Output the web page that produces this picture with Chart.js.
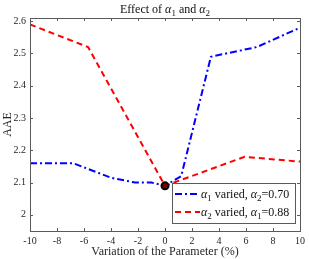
<!DOCTYPE html>
<html>
<head>
<meta charset="utf-8">
<script src="https://cdn.jsdelivr.net/npm/chart.js@4"></script>
<style>
  html, body { margin: 0; padding: 0; background: #fff; }
  #wrap { width: 309px; height: 259px; }
</style>
</head>
<body>
<div id="wrap"><canvas id="graph"></canvas></div>
<script>
// values
const alpha1X = [-10, -6.8, -4, -2.2, -1, 0, 1.2, 3.4, 6.8, 10]
const alpha1Y = [2.16, 2.16, 2.115, 2.10, 2.10, 2.09, 2.12, 2.49, 2.52, 2.58]
const alpha2X = [-10, -5.7, 0, 5.9, 10]
const alpha2Y = [2.59, 2.52, 2.09, 2.18, 2.165]
const bestPoint = [{ x: 0, y: 2.09 }]
const xTicks = [-10, -8, -6, -4, -2, 0, 2, 4, 6, 8, 10]
const yTicks = [2, 2.1, 2.2, 2.3, 2.4, 2.5, 2.6]

const serif = '"Liberation Serif", "Times New Roman", serif'
const inkColor = '#262626'
const boxColor = '#5a5a5a'

// pieces of text with greek + subscript
const titleParts = [
    { t: 'Effect of ' }, { t: 'α', it: true }, { t: '1', sub: true },
    { t: ' and ' }, { t: 'α', it: true }, { t: '2', sub: true }
]
const legendParts = [
    [{ t: 'α', it: true }, { t: '1', sub: true }, { t: ' varied, ' }, { t: 'α', it: true }, { t: '2', sub: true }, { t: '=0.70' }],
    [{ t: 'α', it: true }, { t: '2', sub: true }, { t: ' varied, ' }, { t: 'α', it: true }, { t: '1', sub: true }, { t: '=0.88' }]
]

const toPoints = (xs, ys) => xs.map((x, i) => ({ x: x, y: ys[i] }))

function partFont(p, size) {
    const s = p.sub ? Math.round(size * 0.72) : size
    return (p.it ? 'italic ' : '') + s + 'px ' + serif
}
function richWidth(ctx, parts, size) {
    let w = 0
    parts.forEach(p => { ctx.font = partFont(p, size); w += ctx.measureText(p.t).width })
    return w
}
function drawRich(ctx, parts, x, y, size) {
    ctx.textAlign = 'left'
    ctx.textBaseline = 'alphabetic'
    parts.forEach(p => {
        ctx.font = partFont(p, size)
        ctx.fillText(p.t, x, p.sub ? y + size * 0.25 : y)
        x += ctx.measureText(p.t).width
    })
}

// box, inner ticks, title and legend, MATLAB style
const matlabLook = {
    id: 'matlabLook',
    afterDatasetsDraw(chart) {
        const ctx = chart.ctx
        const a = chart.chartArea
        const xs = chart.scales.x
        const ys = chart.scales.y
        ctx.save()
        ctx.strokeStyle = boxColor
        ctx.lineWidth = 1
        ctx.setLineDash([])
        ctx.beginPath()
        xTicks.forEach(v => {
            const px = Math.round(xs.getPixelForValue(v)) + 0.5
            ctx.moveTo(px, a.bottom); ctx.lineTo(px, a.bottom - 3)
            ctx.moveTo(px, a.top); ctx.lineTo(px, a.top + 3)
        })
        yTicks.forEach(v => {
            const py = Math.round(ys.getPixelForValue(v)) + 0.5
            ctx.moveTo(a.left, py); ctx.lineTo(a.left + 3, py)
            ctx.moveTo(a.right, py); ctx.lineTo(a.right - 3, py)
        })
        ctx.stroke()
        ctx.strokeRect(Math.round(a.left) + 0.5, Math.round(a.top) + 0.5,
            Math.round(a.right - a.left), Math.round(a.bottom - a.top))

        // title
        ctx.fillStyle = '#111'
        const tw = richWidth(ctx, titleParts, 12)
        drawRich(ctx, titleParts, (a.left + a.right) / 2 - tw / 2, 13, 12)

        // legend box
        const lx = 172, ly = 183, lw = 123, lh = 40
        ctx.fillStyle = '#fff'
        ctx.fillRect(lx, ly, lw, lh)
        ctx.strokeStyle = boxColor
        ctx.strokeRect(lx + 0.5, ly + 0.5, lw, lh)
        const rows = [ly + 11, ly + 29]
        ;[1, 2].forEach((di, i) => {
            const ds = chart.data.datasets[di]
            ctx.strokeStyle = ds.borderColor
            ctx.lineWidth = ds.borderWidth
            ctx.setLineDash(ds.borderDash)
            ctx.beginPath()
            ctx.moveTo(lx + 3, rows[i]); ctx.lineTo(lx + 28, rows[i])
            ctx.stroke()
            ctx.fillStyle = '#111'
            drawRich(ctx, legendParts[i], lx + 29, rows[i] + 4, 12)
        })
        ctx.restore()
    }
}

const config = {
    type: 'scatter',
    data: {
        datasets: [{
            label: 'best',
            data: bestPoint,
            pointRadius: 3.5,
            pointBorderWidth: 2,
            pointBorderColor: '#000',
            pointBackgroundColor: '#7a0000'
        }, {
            label: 'alpha1 varied, alpha2=0.70',
            data: toPoints(alpha1X, alpha1Y),
            showLine: true,
            borderColor: '#0000ff',
            borderWidth: 2,
            borderDash: [7, 3, 2, 3],
            pointRadius: 0
        }, {
            label: 'alpha2 varied, alpha1=0.88',
            data: toPoints(alpha2X, alpha2Y),
            showLine: true,
            borderColor: '#ff0000',
            borderWidth: 2,
            borderDash: [6, 4],
            pointRadius: 0
        }]
    },
    options: {
        responsive: true,
        maintainAspectRatio: false,
        animation: false,
        events: [],
        layout: { padding: { top: 18, right: 6, left: 0, bottom: 0 } },
        plugins: {
            legend: { display: false },
            title: { display: false },
            tooltip: { enabled: false }
        },
        scales: {
            x: {
                type: 'linear',
                min: -10,
                max: 10,
                grid: { display: false, drawTicks: false },
                border: { display: false },
                afterBuildTicks: s => { s.ticks = xTicks.map(v => ({ value: v })) },
                afterFit: s => { s.height = 28 },
                ticks: {
                    padding: 4,
                    color: inkColor,
                    font: { family: serif, size: 10 },
                    maxRotation: 0,
                    callback: v => String(v)
                },
                title: {
                    display: true,
                    text: 'Variation of the Parameter (%)',
                    color: inkColor,
                    font: { family: serif, size: 12 },
                    padding: { top: 0, bottom: 0 }
                }
            },
            y: {
                type: 'linear',
                min: 1.95,
                max: 2.61,
                grid: { display: false, drawTicks: false },
                border: { display: false },
                afterBuildTicks: s => { s.ticks = yTicks.map(v => ({ value: v })) },
                afterFit: s => { s.width = 30 },
                ticks: {
                    padding: 4,
                    color: inkColor,
                    font: { family: serif, size: 10 },
                    callback: v => String(+v.toFixed(1))
                },
                title: {
                    display: true,
                    text: 'AAE',
                    color: inkColor,
                    font: { family: serif, size: 12 },
                    padding: { top: 1, bottom: 0 }
                }
            }
        }
    },
    plugins: [matlabLook]
}

document.addEventListener('DOMContentLoaded', () => {
    new Chart(document.querySelector('#graph'), config)
})
</script>
</body>
</html>
